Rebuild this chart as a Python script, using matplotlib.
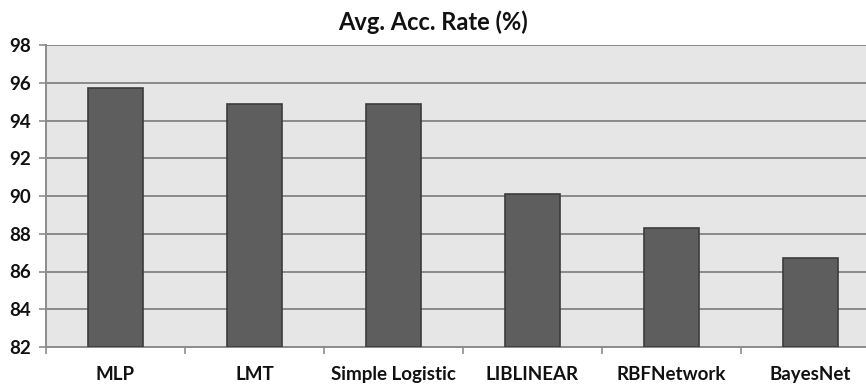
import matplotlib
matplotlib.use("Agg")
import matplotlib.pyplot as plt
import numpy as np

categories = ["MLP", "LMT", "Simple Logistic", "LIBLINEAR", "RBFNetwork", "BayesNet"]
acc_rate = [95.7, 94.9, 94.9, 90.1, 88.3, 86.7]
y_ticks = [82, 84, 86, 88, 90, 92, 94, 96, 98]

plt.rcParams["font.family"] = ["Lato", "DejaVu Sans"]

fig = plt.figure(figsize=(8.66, 3.84), dpi=100)
fig.patch.set_facecolor("white")
ax = fig.add_axes([46 / 866, 37 / 384, 834 / 866, 302 / 384])
ax.set_facecolor("#e6e6e6")

x = np.arange(len(categories))
ax.bar(x, [v - 82 for v in acc_rate], bottom=82, width=0.4,
       color="#5e5e5e", edgecolor="#3c3c3c", linewidth=1.2, zorder=3)

ax.set_xlim(-0.5, len(categories) - 0.5)
ax.set_ylim(82, 98)
ax.set_yticks(y_ticks)
ax.set_yticklabels([str(t) for t in y_ticks], fontsize=13.5, fontweight="bold", color="#111111")
ax.set_xticks(x)
ax.set_xticklabels(categories, fontsize=13.5, fontweight="bold", color="#111111")
ax.tick_params(axis="x", length=0, pad=14)
ax.set_xticks(np.arange(-0.5, len(categories), 1.0), minor=True)
ax.tick_params(axis="x", which="minor", length=5, color="#8c8c8c", width=1.2)
ax.tick_params(axis="y", length=5, color="#8c8c8c", width=1.2, pad=6)

ax.grid(axis="y", color="#8a8a8a", linewidth=1.4, zorder=1)
for side in ["top", "right"]:
    ax.spines[side].set_visible(False)
for side in ["left", "bottom"]:
    ax.spines[side].set_color("#8c8c8c")
    ax.spines[side].set_linewidth(1.4)

fig.text(0.5, 1 - 22 / 384, "Avg. Acc. Rate (%)", ha="center", va="center",
         fontsize=17, fontweight="bold", color="#111111")

fig.savefig("out.png", dpi=100)
